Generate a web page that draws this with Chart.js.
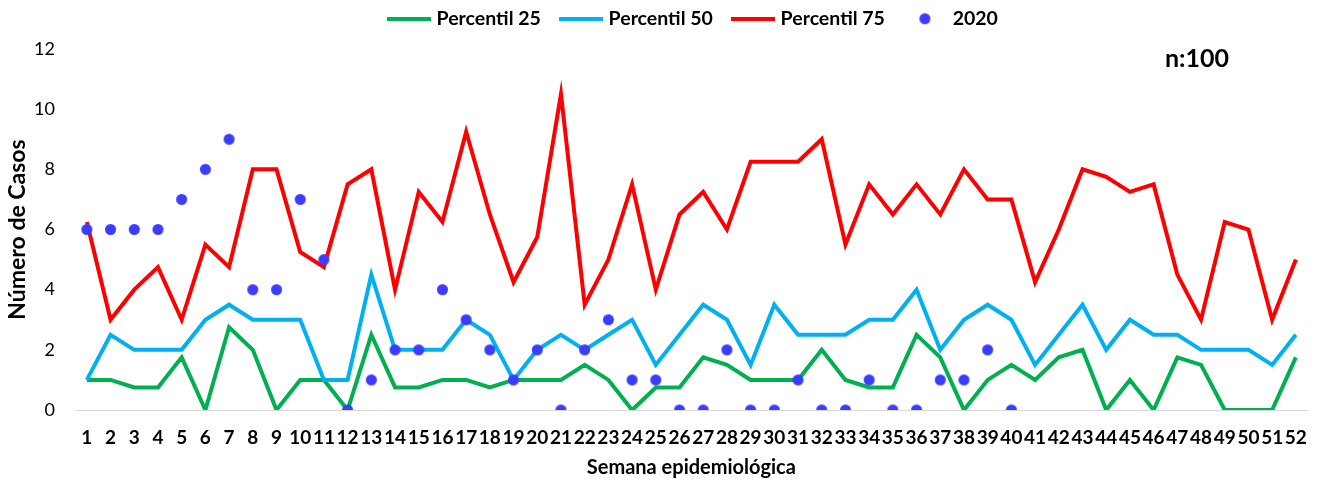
<!DOCTYPE html>
<html>
<head>
<meta charset="utf-8">
<script src="https://cdn.jsdelivr.net/npm/chart.js@4/dist/chart.umd.min.js"></script>
<style>
  html, body { margin: 0; padding: 0; background: #fff; }
  #wrap { width: 1323px; height: 482px; }
</style>
</head>
<body>
<div id="wrap"><canvas id="casesChart"></canvas></div>
<script>
const weeks = Array.from({ length: 52 }, (_, i) => String(i + 1));

const p25 = [1, 1, 0.75, 0.75, 1.75, 0, 2.75, 2, 0, 1, 1, 0, 2.5, 0.75, 0.75, 1, 1, 0.75, 1, 1,
  1, 1.5, 1, 0, 0.75, 0.75, 1.75, 1.5, 1, 1, 1, 2, 1, 0.75, 0.75, 2.5, 1.75, 0, 1, 1.5,
  1, 1.75, 2, 0, 1, 0, 1.75, 1.5, 0, 0, 0, 1.75];

const p50 = [1, 2.5, 2, 2, 2, 3, 3.5, 3, 3, 3, 1, 1, 4.5, 2, 2, 2, 3, 2.5, 1, 2,
  2.5, 2, 2.5, 3, 1.5, 2.5, 3.5, 3, 1.5, 3.5, 2.5, 2.5, 2.5, 3, 3, 4, 2, 3, 3.5, 3,
  1.5, 2.5, 3.5, 2, 3, 2.5, 2.5, 2, 2, 2, 1.5, 2.5];

const p75 = [6.25, 3, 4, 4.75, 3, 5.5, 4.75, 8, 8, 5.25, 4.75, 7.5, 8, 4, 7.25, 6.25, 9.25, 6.5, 4.25, 5.75,
  10.5, 3.5, 5, 7.5, 4, 6.5, 7.25, 6, 8.25, 8.25, 8.25, 9, 5.5, 7.5, 6.5, 7.5, 6.5, 8, 7, 7,
  4.25, 6, 8, 7.75, 7.25, 7.5, 4.5, 3, 6.25, 6, 3, 5];

const cases2020 = [6, 6, 6, 6, 7, 8, 9, 4, 4, 7, 5, 0, 1, 2, 2, 4, 3, 2, 1, 2,
  0, 2, 3, 1, 1, 0, 0, 2, 0, 0, 1, 0, 0, 1, 0, 0, 1, 1, 2, 0];

const fontFam = 'Lato, "Open Sans", sans-serif';

// small canvases used as legend markers
function lineMarker(color) {
    const c = document.createElement('canvas');
    c.width = 44; c.height = 4;
    const g = c.getContext('2d');
    g.fillStyle = color;
    g.fillRect(0, 0, 44, 4);
    return c;
}
function dotMarker(color) {
    const c = document.createElement('canvas');
    c.width = 13; c.height = 13;
    const g = c.getContext('2d');
    g.fillStyle = color;
    g.beginPath();
    g.arc(6.5, 6.5, 5.5, 0, Math.PI * 2);
    g.fill();
    return c;
}

// legend: fixed height, centred over the plot area
const legendTweak = {
    id: 'legendTweak',
    beforeInit(chart) {
        const fit = chart.legend.fit;
        chart.legend.fit = function() {
            fit.bind(chart.legend)();
            this.height = 62;
        };
    },
    afterLayout(chart) {
        chart.legend.left = chart.chartArea.left + 3;
        chart.legend.right = chart.chartArea.right + 3;
    }
};

// "n:100" note in the top right corner
const nNote = {
    id: 'nNote',
    afterDraw(chart) {
        const ctx = chart.ctx;
        ctx.save();
        ctx.font = 'bold 25px ' + fontFam;
        ctx.fillStyle = '#000';
        ctx.textAlign = 'left';
        ctx.textBaseline = 'middle';
        ctx.fillText('n:100', 1165, 59);
        ctx.restore();
    }
};

const ctx = document.getElementById('casesChart').getContext('2d');
const casesChart = new Chart(ctx, {
    type: 'line',
    data: {
        labels: weeks,
        datasets: [{
            label: 'Percentil 25',
            data: p25,
            borderColor: '#00b050',
            backgroundColor: '#00b050',
            borderWidth: 4,
            pointRadius: 0,
            pointStyle: lineMarker('#00b050'),
            order: 3
        }, {
            label: 'Percentil 50',
            data: p50,
            borderColor: '#00b0f0',
            backgroundColor: '#00b0f0',
            borderWidth: 4,
            pointRadius: 0,
            pointStyle: lineMarker('#00b0f0'),
            order: 2
        }, {
            label: 'Percentil 75',
            data: p75,
            borderColor: '#ff0000',
            backgroundColor: '#ff0000',
            borderWidth: 4,
            pointRadius: 0,
            pointStyle: lineMarker('#ff0000'),
            order: 1
        }, {
            label: '2020',
            data: cases2020,
            showLine: false,
            pointRadius: 6,
            pointHoverRadius: 6,
            pointBackgroundColor: '#3c3cff',
            pointBorderColor: '#7a64b4',
            pointBorderWidth: 1,
            backgroundColor: '#3c3cff',
            borderColor: '#7a64b4',
            pointStyle: dotMarker('#3c3cff'),
            order: 0
        }]
    },
    options: {
        responsive: true,
        maintainAspectRatio: false,
        animation: false,
        layout: { padding: { top: -13, right: 13, left: 0, bottom: 0 } },
        elements: { line: { tension: 0 } },
        plugins: {
            legend: {
                position: 'top',
                labels: {
                    usePointStyle: true,
                    pointStyleWidth: 36,
                    padding: 22,
                    color: '#000',
                    font: { family: fontFam, size: 19.5, weight: 'bold' },
                    sort: (a, b) => a.datasetIndex - b.datasetIndex
                }
            },
            tooltip: { enabled: false }
        },
        scales: {
            x: {
                offset: true,
                afterFit: (s) => { s.height = 72; },
                grid: { display: false, drawTicks: false },
                border: { display: true, color: '#d9d9d9', width: 1 },
                ticks: {
                    autoSkip: false,
                    maxRotation: 0,
                    padding: 16,
                    color: '#000',
                    font: { family: fontFam, size: 19, weight: 'bold' }
                },
                title: {
                    display: true,
                    text: 'Semana epidemiológica',
                    color: '#000',
                    padding: { top: 2, bottom: 2 },
                    font: { family: fontFam, size: 20, weight: 'bold' }
                }
            },
            y: {
                min: 0,
                max: 12,
                afterFit: (s) => { s.width = 75; },
                grid: { display: false, drawTicks: false },
                border: { display: false },
                ticks: {
                    stepSize: 2,
                    padding: 20,
                    color: '#000',
                    font: { family: fontFam, size: 18 }
                },
                title: {
                    display: true,
                    text: 'Número de Casos',
                    color: '#000',
                    padding: { top: 4, bottom: 0 },
                    font: { family: fontFam, size: 23, weight: 'bold' }
                }
            }
        }
    },
    plugins: [legendTweak, nNote]
});
</script>
</body>
</html>
